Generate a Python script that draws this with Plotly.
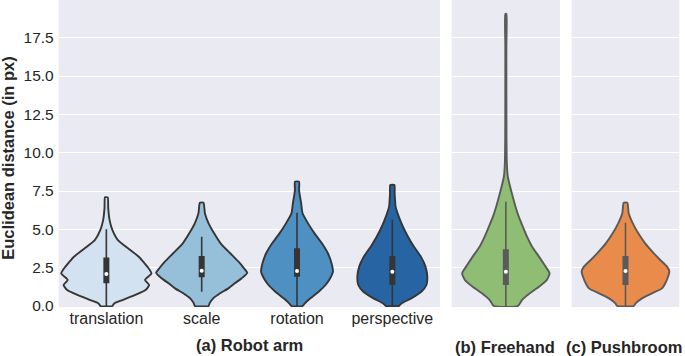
import plotly.graph_objects as go

# ---------------- data ----------------
robot_categories = ["translation", "scale", "rotation", "perspective"]

# violin density profiles (y value, relative half-width)
translation_y = [0, 0.17, 0.39, 0.72, 1.04, 1.37, 1.7, 2.13, 2.57, 2.89, 3.2, 3.65, 4.3, 4.96, 5.6, 6.4, 7.09]
translation_d = [0.13, 0.17, 0.35, 0.63, 0.85, 0.93, 0.84, 0.98, 0.89, 0.80, 0.71, 0.52, 0.25, 0.13, 0.07, 0.04, 0.03]

scale_y = [0, 0.17, 0.5, 0.83, 1.15, 1.48, 1.81, 2.17, 2.46, 2.89, 3.44, 4.09, 4.74, 5.39, 6.05, 6.74]
scale_d = [0.15, 0.17, 0.25, 0.40, 0.58, 0.72, 0.87, 0.99, 0.92, 0.80, 0.62, 0.41, 0.27, 0.15, 0.07, 0.04]

rotation_y = [0, 0.17, 0.5, 0.93, 1.37, 1.81, 2.24, 2.79, 3.44, 4.09, 4.74, 5.39, 6.05, 6.7, 7.13, 7.57, 8.11]
rotation_d = [0.12, 0.17, 0.29, 0.47, 0.62, 0.72, 0.78, 0.75, 0.67, 0.54, 0.38, 0.24, 0.12, 0.09, 0.065, 0.045, 0.045]

perspective_y = [0, 0.17, 0.5, 0.93, 1.37, 1.91, 2.57, 3.22, 3.87, 4.52, 5.17, 5.83, 6.5, 7.0, 7.35, 7.89]
perspective_d = [0.14, 0.20, 0.41, 0.63, 0.74, 0.76, 0.72, 0.62, 0.47, 0.34, 0.23, 0.14, 0.07, 0.057, 0.05, 0.045]

freehand_y = [0, 0.39, 0.83, 1.26, 1.7, 2.13, 2.67, 3.22, 3.87, 4.52, 5.17, 5.83, 6.48, 7.13, 7.78, 8.43, 9.3, 11, 14, 17, 19.05]
freehand_d = [0.26, 0.35, 0.52, 0.72, 0.89, 0.95, 0.84, 0.72, 0.57, 0.46, 0.37, 0.28, 0.21, 0.15, 0.093, 0.043, 0.022, 0.014, 0.012, 0.012, 0.012]

pushbroom_y = [0, 0.17, 0.5, 0.83, 1.15, 1.48, 1.91, 2.24, 2.57, 3.0, 3.44, 4.09, 4.74, 5.39, 6.05, 6.74]
pushbroom_d = [0.18, 0.22, 0.36, 0.58, 0.80, 0.87, 0.93, 0.96, 0.91, 0.76, 0.62, 0.43, 0.28, 0.16, 0.07, 0.04]

# box stats: whisker low, q1, median, q3, whisker high
translation_box = [0, 1.48, 2.09, 3.17, 5.0]
scale_box = [0.93, 1.87, 2.3, 3.26, 4.52]
rotation_box = [0, 1.91, 2.28, 3.76, 6.09]
perspective_box = [0, 1.37, 2.24, 3.26, 5.65]
freehand_box = [0, 1.37, 2.24, 3.7, 6.8]
pushbroom_box = [0, 1.37, 2.28, 3.26, 5.43]

y_ticks = [0, 2.5, 5, 7.5, 10, 12.5, 15, 17.5]
y_tick_labels = ["0.0", "2.5", "5.0", "7.5", "10.0", "12.5", "15.0", "17.5"]

# ---------------- style ----------------
W, H = 685, 356
BG = "#eaeaf2"
TXT = "#262626"
FONT = "Liberation Sans, Arial, sans-serif"
HALF = 0.483  # half-width (x units) of relative density 1.0

violins = [
    # (x-axis id, center, y, d, box, fill, edge)
    ("x", 0, translation_y, translation_d, translation_box, "#d2e2f0", "#353535"),
    ("x", 1, scale_y, scale_d, scale_box, "#96c0da", "#353535"),
    ("x", 2, rotation_y, rotation_d, rotation_box, "#4f90c2", "#353535"),
    ("x", 3, perspective_y, perspective_d, perspective_box, "#2764a3", "#353535"),
    ("x2", 0, freehand_y, freehand_d, freehand_box, "#8fbd74", "#5a5a5a"),
    ("x3", 0, pushbroom_y, pushbroom_d, pushbroom_box, "#e98b4b", "#5a5a5a"),
]

fig = go.Figure()
for xa, c, ys, ds, box, fill, edge in violins:
    ya = xa.replace("x", "y")
    xs = [c + d * HALF for d in ds] + [c - d * HALF for d in reversed(ds)]
    yy = list(ys) + list(reversed(ys))
    fig.add_trace(go.Scatter(x=xs + [xs[0]], y=yy + [yy[0]], xaxis=xa, yaxis=ya, mode="lines",
                             fill="toself", fillcolor=fill,
                             line=dict(color=edge, width=1.9, shape="spline", smoothing=0.5),
                             hoverinfo="skip", showlegend=False))
    wlo, q1, med, q3, whi = box
    fig.add_trace(go.Scatter(x=[c, c], y=[wlo, whi], xaxis=xa, yaxis=ya, mode="lines",
                             line=dict(color=edge, width=1.6), hoverinfo="skip", showlegend=False))
    fig.add_trace(go.Scatter(x=[c, c], y=[q1, q3], xaxis=xa, yaxis=ya, mode="lines",
                             line=dict(color=edge, width=6), hoverinfo="skip", showlegend=False))
    fig.add_trace(go.Scatter(x=[c], y=[med], xaxis=xa, yaxis=ya, mode="markers",
                             marker=dict(color="white", size=4, symbol="circle", line=dict(width=0)),
                             hoverinfo="skip", showlegend=False))

px = lambda v: v / W
ydom = [(H - 307) / H, 1.0]
yrange = [-0.065, 19.96]
sub_half = (108.3 / 95.3) / 2

common_y = dict(range=yrange, domain=ydom, showgrid=True, gridcolor="white", gridwidth=1.3,
                zeroline=False, showline=False, tickvals=y_ticks, fixedrange=True)
fig.update_layout(
    width=W, height=H, margin=dict(l=0, r=0, t=0, b=0, autoexpand=False),
    paper_bgcolor="white", plot_bgcolor=BG,
    font=dict(family=FONT, color=TXT),
    xaxis=dict(domain=[px(58.7), px(440)], range=[-0.5, 3.5], tickvals=[0, 1, 2, 3],
               ticktext=robot_categories, showgrid=False, zeroline=False, showline=False,
               tickfont=dict(size=16, color=TXT), ticks="", ticklabelstandoff=0),
    xaxis2=dict(domain=[px(451.7), px(560)], range=[-sub_half, sub_half], showticklabels=False,
                showgrid=False, zeroline=False, showline=False, ticks=""),
    xaxis3=dict(domain=[px(571.7), px(679.3)], range=[-sub_half, sub_half], showticklabels=False,
                showgrid=False, zeroline=False, showline=False, ticks=""),
    yaxis=dict(anchor="x", ticktext=y_tick_labels, tickfont=dict(size=15.5, color=TXT),
               ticks="", ticklabelstandoff=4, **common_y),
    yaxis2=dict(anchor="x2", showticklabels=False, **common_y),
    yaxis3=dict(anchor="x3", showticklabels=False, **common_y),
)

ann_font = dict(family=FONT, size=16.5, color=TXT)
fig.add_annotation(text="<b>Euclidean distance (in px)</b>", textangle=-90, xref="paper", yref="paper",
                   x=px(8.5), y=(H - 158.3) / H, showarrow=False, font=ann_font,
                   xanchor="center", yanchor="middle")
fig.add_annotation(text="<b>(a) Robot arm</b>", xref="paper", yref="paper", x=px(249.3), y=(H - 345) / H,
                   showarrow=False, font=ann_font, xanchor="center", yanchor="middle")
fig.add_annotation(text="<b>(b) Freehand</b>", xref="paper", yref="paper", x=px(505), y=(H - 346.5) / H,
                   showarrow=False, font=ann_font, xanchor="center", yanchor="middle")
fig.add_annotation(text="<b>(c) Pushbroom</b>", xref="paper", yref="paper", x=px(624), y=(H - 346.5) / H,
                   showarrow=False, font=ann_font, xanchor="center", yanchor="middle")

fig.write_html("out.html", config={"displayModeBar": False},
               post_script="document.body.style.margin='0';document.body.style.overflow='hidden';")
